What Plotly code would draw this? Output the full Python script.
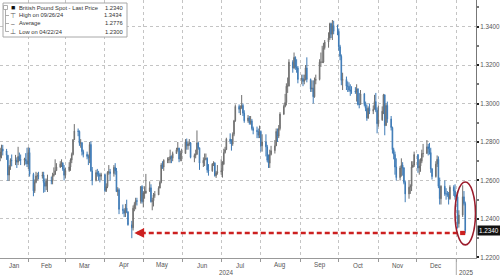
import plotly.graph_objects as go
import pandas as pd

# ---------------- data (GBPUSD daily) ----------------
first_open = 1.2728
close = [
    # Jan 2024 (from Jan 9)
    1.2720, 1.2748, 1.2764, 1.2753, 1.2731, 1.2628, 1.2672, 1.2705, 1.2703, 1.2705, 1.2695, 1.2725, 1.2709, 1.2705, 1.2710, 1.2702, 1.2686,
    # Feb
    1.2745, 1.2632, 1.2546, 1.2590, 1.2623, 1.2625, 1.2622, 1.2628, 1.2589, 1.2570, 1.2599, 1.2600, 1.2597, 1.2626, 1.2631, 1.2651, 1.2670, 1.2685, 1.2690, 1.2660, 1.2627,
    # Mar
    1.2652, 1.2670, 1.2706, 1.2735, 1.2812, 1.2857, 1.2855, 1.2793, 1.2796, 1.2750, 1.2736, 1.2725, 1.2718, 1.2787, 1.2650, 1.2600, 1.2641, 1.2633, 1.2630, 1.2622, 1.2630,
    # Apr
    1.2547, 1.2568, 1.2642, 1.2645, 1.2636, 1.2668, 1.2650, 1.2542, 1.2552, 1.2450, 1.2445, 1.2430, 1.2456, 1.2437, 1.2370, 1.2354, 1.2456, 1.2475, 1.2495, 1.2492, 1.2568, 1.2490,
    # May
    1.2535, 1.2535, 1.2545, 1.2562, 1.2490, 1.2495, 1.2525, 1.2525, 1.2560, 1.2590, 1.2680, 1.2670, 1.2705, 1.2705, 1.2710, 1.2725, 1.2715, 1.2740, 1.2760, 1.2768, 1.2712, 1.2740, 1.2740,
    # Jun
    1.2800, 1.2780, 1.2790, 1.2795, 1.2720, 1.2730, 1.2735, 1.2795, 1.2770, 1.2690, 1.2705, 1.2710, 1.2715, 1.2655, 1.2650, 1.2685, 1.2690, 1.2625, 1.2640, 1.2645,
    # Jul
    1.2650, 1.2685, 1.2745, 1.2760, 1.2815, 1.2805, 1.2790, 1.2840, 1.2910, 1.2985, 1.2970, 1.2975, 1.2990, 1.2950, 1.2910, 1.2925, 1.2900, 1.2910, 1.2870, 1.2860, 1.2855, 1.2835, 1.2855,
    # Aug
    1.2780, 1.2800, 1.2775, 1.2705, 1.2690, 1.2735, 1.2755, 1.2780, 1.2855, 1.2830, 1.2870, 1.2945, 1.2985, 1.3005, 1.3090, 1.3090, 1.3215, 1.3185, 1.3240, 1.3190, 1.3185, 1.3125,
    # Sep
    1.3130, 1.3115, 1.3125, 1.3185, 1.3125, 1.3075, 1.3080, 1.3035, 1.3120, 1.3125, 1.3215, 1.3215, 1.3215, 1.3290, 1.3320, 1.3340, 1.3415, 1.3360, 1.3405, 1.3375, 1.3375,
    # Oct
    1.3295, 1.3245, 1.3120, 1.3125, 1.3090, 1.3090, 1.3070, 1.3065, 1.3065, 1.3060, 1.3075, 1.2995, 1.2995, 1.3050, 1.2995, 1.2975, 1.2925, 1.2975, 1.2960, 1.2970, 1.3010, 1.2965, 1.2895,
    # Nov
    1.2915, 1.2960, 1.3045, 1.2885, 1.2990, 1.2920, 1.2875, 1.2760, 1.2735, 1.2670, 1.2615, 1.2665, 1.2680, 1.2665, 1.2590, 1.2530, 1.2565, 1.2570, 1.2670, 1.2680, 1.2735,
    # Dec
    1.2665, 1.2675, 1.2700, 1.2740, 1.2740, 1.2775, 1.2765, 1.2745, 1.2660, 1.2620, 1.2685, 1.2710, 1.2570, 1.2505, 1.2570, 1.2530, 1.2530, 1.2530, 1.2505, 1.2565, 1.2545, 1.2515,
    # Jan 2025
    1.2515, 1.2375, 1.2420, 1.2515, 1.2480, 1.2340,
]
high = [
    1.2740, 1.2770, 1.2786, 1.2785, 1.2764, 1.2733, 1.2680, 1.2715, 1.2735, 1.2733, 1.2720, 1.2775, 1.2745, 1.2735, 1.2718, 1.2742, 1.2770,
    1.2773, 1.2770, 1.2640, 1.2605, 1.2645, 1.2640, 1.2645, 1.2645, 1.2645, 1.2610, 1.2610, 1.2630, 1.2620, 1.2640, 1.2668, 1.2710, 1.2690, 1.2700, 1.2710, 1.2695, 1.2680,
    1.2667, 1.2695, 1.2715, 1.2745, 1.2815, 1.2893, 1.2870, 1.2860, 1.2815, 1.2800, 1.2760, 1.2750, 1.2735, 1.2800, 1.2803, 1.2670, 1.2655, 1.2660, 1.2650, 1.2640, 1.2640,
    1.2636, 1.2585, 1.2648, 1.2680, 1.2660, 1.2680, 1.2690, 1.2665, 1.2565, 1.2560, 1.2475, 1.2455, 1.2478, 1.2500, 1.2440, 1.2390, 1.2470, 1.2487, 1.2510, 1.2510, 1.2570, 1.2575,
    1.2545, 1.2570, 1.2634, 1.2595, 1.2580, 1.2510, 1.2535, 1.2545, 1.2570, 1.2600, 1.2690, 1.2700, 1.2710, 1.2720, 1.2722, 1.2760, 1.2730, 1.2750, 1.2770, 1.2800, 1.2770, 1.2755, 1.2765,
    1.2815, 1.2818, 1.2800, 1.2815, 1.2800, 1.2740, 1.2760, 1.2860, 1.2800, 1.2770, 1.2720, 1.2740, 1.2740, 1.2720, 1.2685, 1.2690, 1.2700, 1.2695, 1.2650, 1.2680,
    1.2710, 1.2700, 1.2765, 1.2775, 1.2822, 1.2845, 1.2815, 1.2850, 1.2915, 1.2995, 1.2995, 1.2990, 1.3044, 1.3000, 1.2965, 1.2940, 1.2935, 1.2935, 1.2920, 1.2880, 1.2880, 1.2870, 1.2885,
    1.2860, 1.2840, 1.2840, 1.2785, 1.2735, 1.2760, 1.2780, 1.2810, 1.2870, 1.2870, 1.2888, 1.2955, 1.2995, 1.3050, 1.3105, 1.3135, 1.3230, 1.3225, 1.3265, 1.3245, 1.3230, 1.3195,
    1.3150, 1.3150, 1.3150, 1.3200, 1.3240, 1.3130, 1.3120, 1.3120, 1.3135, 1.3150, 1.3230, 1.3265, 1.3300, 1.3315, 1.3330, 1.3370, 1.3420, 1.3420, 1.3434, 1.3430, 1.3410,
    1.3390, 1.3305, 1.3255, 1.3160, 1.3140, 1.3115, 1.3110, 1.3100, 1.3090, 1.3085, 1.3100, 1.3080, 1.3055, 1.3070, 1.3055, 1.3010, 1.2995, 1.2985, 1.3000, 1.2990, 1.3045, 1.3055, 1.2980,
    1.2990, 1.2985, 1.3050, 1.3047, 1.3000, 1.3010, 1.2935, 1.2880, 1.2770, 1.2750, 1.2715, 1.2675, 1.2715, 1.2695, 1.2670, 1.2600, 1.2600, 1.2580, 1.2700, 1.2700, 1.2750,
    1.2735, 1.2710, 1.2715, 1.2760, 1.2790, 1.2810, 1.2790, 1.2795, 1.2770, 1.2665, 1.2700, 1.2730, 1.2725, 1.2615, 1.2575, 1.2600, 1.2560, 1.2545, 1.2540, 1.2575, 1.2575, 1.2580,
    1.2525, 1.2545, 1.2445, 1.2575, 1.2545, 1.2490,
]
low = [
    1.2680, 1.2700, 1.2715, 1.2730, 1.2707, 1.2598, 1.2597, 1.2655, 1.2674, 1.2680, 1.2665, 1.2680, 1.2700, 1.2680, 1.2678, 1.2683, 1.2670,
    1.2660, 1.2620, 1.2518, 1.2535, 1.2585, 1.2600, 1.2605, 1.2610, 1.2536, 1.2540, 1.2550, 1.2540, 1.2580, 1.2580, 1.2620, 1.2640, 1.2650, 1.2665, 1.2670, 1.2650, 1.2600,
    1.2610, 1.2645, 1.2650, 1.2690, 1.2730, 1.2810, 1.2830, 1.2780, 1.2770, 1.2730, 1.2720, 1.2710, 1.2680, 1.2690, 1.2645, 1.2575, 1.2595, 1.2620, 1.2600, 1.2590, 1.2600,
    1.2540, 1.2540, 1.2560, 1.2630, 1.2600, 1.2620, 1.2630, 1.2540, 1.2520, 1.2425, 1.2425, 1.2410, 1.2410, 1.2430, 1.2365, 1.2300, 1.2340, 1.2440, 1.2450, 1.2470, 1.2480, 1.2480,
    1.2460, 1.2505, 1.2530, 1.2540, 1.2485, 1.2445, 1.2465, 1.2510, 1.2530, 1.2560, 1.2585, 1.2660, 1.2650, 1.2690, 1.2690, 1.2690, 1.2690, 1.2700, 1.2740, 1.2750, 1.2695, 1.2700, 1.2700,
    1.2740, 1.2760, 1.2760, 1.2780, 1.2715, 1.2695, 1.2715, 1.2735, 1.2760, 1.2655, 1.2670, 1.2675, 1.2705, 1.2640, 1.2625, 1.2645, 1.2675, 1.2620, 1.2613, 1.2630,
    1.2630, 1.2615, 1.2680, 1.2740, 1.2760, 1.2790, 1.2755, 1.2780, 1.2830, 1.2905, 1.2950, 1.2940, 1.2975, 1.2935, 1.2900, 1.2900, 1.2890, 1.2890, 1.2860, 1.2840, 1.2820, 1.2820, 1.2820,
    1.2750, 1.2750, 1.2725, 1.2695, 1.2665, 1.2665, 1.2730, 1.2740, 1.2780, 1.2800, 1.2820, 1.2860, 1.2940, 1.2980, 1.2990, 1.3055, 1.3090, 1.3160, 1.3180, 1.3175, 1.3160, 1.3105,
    1.3100, 1.3090, 1.3100, 1.3120, 1.3110, 1.3060, 1.3060, 1.3000, 1.3030, 1.3100, 1.3120, 1.3190, 1.3210, 1.3210, 1.3280, 1.3290, 1.3330, 1.3340, 1.3330, 1.3360, 1.3355,
    1.3275, 1.3225, 1.3095, 1.3070, 1.3070, 1.3060, 1.3060, 1.3040, 1.3050, 1.3050, 1.3010, 1.2990, 1.2975, 1.3000, 1.2985, 1.2960, 1.2910, 1.2920, 1.2945, 1.2945, 1.2970, 1.2955, 1.2845,
    1.2880, 1.2910, 1.2945, 1.2835, 1.2885, 1.2900, 1.2860, 1.2740, 1.2710, 1.2630, 1.2600, 1.2600, 1.2620, 1.2625, 1.2580, 1.2487, 1.2505, 1.2530, 1.2545, 1.2665, 1.2670,
    1.2640, 1.2630, 1.2645, 1.2690, 1.2720, 1.2740, 1.2730, 1.2735, 1.2640, 1.2605, 1.2615, 1.2670, 1.2560, 1.2475, 1.2475, 1.2520, 1.2500, 1.2515, 1.2475, 1.2500, 1.2520, 1.2500,
    1.2505, 1.2350, 1.2355, 1.2410, 1.2470, 1.2325,
]

y_ticks = [1.22, 1.24, 1.26, 1.28, 1.30, 1.32, 1.34]
month_labels = ["Jan", "Feb", "Mar", "Apr", "May", "Jun", "Jul", "Aug", "Sep", "Oct", "Nov", "Dec"]
month_label_dates = ["2024-01-21", "2024-02-15", "2024-03-16", "2024-04-16", "2024-05-16", "2024-06-16",
                     "2024-07-16", "2024-08-16", "2024-09-16", "2024-10-16", "2024-11-16", "2024-12-16"]
year_labels = ["2024", "2025"]
year_label_dates = ["2024-07-05", "2025-01-09"]

legend_names = ["British Pound Spot - Last Price", "High on 09/26/24", "Average", "Low on 04/22/24"]
legend_values = ["1.2340", "1.3434", "1.2776", "1.2300"]
legend_icons = ["■", "⊤", "–", "⊥"]
last_price_text = "1.2340"
last_price = 1.2340
marked_low_level = 1.2327

# ---------------- build ----------------
dates = pd.bdate_range("2024-01-09", periods=len(close))
opens = [first_open] + close[:-1]
high = [max(h, o, c) for h, o, c in zip(high, opens, close)]
low = [min(l, o, c) for l, o, c in zip(low, opens, close)]

FONT = "Liberation Sans, Arial, sans-serif"
PW, PH = 476.0, 258.0  # plot area size in px

def px(x):
    return x / PW

def py(y):
    return 1 - y / PH

fig = go.Figure()
fig.add_trace(go.Candlestick(
    x=dates, open=opens, high=high, low=low, close=close,
    increasing=dict(line=dict(color="#6f6f6f", width=1), fillcolor="#9a9a9a"),
    decreasing=dict(line=dict(color="#3f7bb6", width=1), fillcolor="#5c95c9"),
    whiskerwidth=0, showlegend=False, hoverinfo="skip",
))

shapes = []
annotations = []

# legend box
shapes.append(dict(type="rect", xref="paper", yref="paper", x0=px(3), x1=px(127), y0=py(37), y1=py(3),
                   line=dict(color="#a8a8a8", width=1), fillcolor="white", layer="above"))
# tree connector
shapes.append(dict(type="rect", xref="paper", yref="paper", x0=px(3.5), x1=px(7.5), y0=py(9.5), y1=py(5.5),
                   line=dict(color="#999", width=0.8), fillcolor="white", layer="above"))
shapes.append(dict(type="line", xref="paper", yref="paper", x0=px(5.5), x1=px(5.5), y0=py(31.5), y1=py(9.5),
                   line=dict(color="#999", width=0.8), layer="above"))
for i in range(1, 4):
    yy = 7.5 + 8 * i
    shapes.append(dict(type="line", xref="paper", yref="paper", x0=px(5.5), x1=px(9), y0=py(yy), y1=py(yy),
                       line=dict(color="#999", width=0.8), layer="above"))

for i, (nm, val, ic) in enumerate(zip(legend_names, legend_values, legend_icons)):
    yy = 7.5 + 8 * i
    annotations.append(dict(xref="paper", yref="paper", x=px(12.5), y=py(yy), text=ic, showarrow=False,
                            xanchor="center", yanchor="middle",
                            font=dict(family=FONT, size=7 if i == 0 else 6.5, color="#111" if i == 0 else "#555")))
    annotations.append(dict(xref="paper", yref="paper", x=px(16.5), y=py(yy), text=nm, showarrow=False,
                            xanchor="left", yanchor="middle", font=dict(family=FONT, size=5.8, color="#333")))
    annotations.append(dict(xref="paper", yref="paper", x=px(125), y=py(yy), text=val, showarrow=False,
                            xanchor="right", yanchor="middle", font=dict(family=FONT, size=5.8, color="#333")))

# month and year labels
for m, d in zip(month_labels, month_label_dates):
    annotations.append(dict(xref="x", yref="paper", x=d, y=0, yshift=-7, text=m, showarrow=False,
                            xanchor="center", yanchor="middle", font=dict(family=FONT, size=6.3, color="#555")))
for yl, d in zip(year_labels, year_label_dates):
    annotations.append(dict(xref="x", yref="paper", x=d, y=0, yshift=-14, text=yl, showarrow=False,
                            xanchor="center", yanchor="middle", font=dict(family=FONT, size=6.3, color="#555")))
shapes.append(dict(type="line", xref="x", yref="paper", x0="2025-01-01", x1="2025-01-01", y0=0, y1=-17 / PH,
                   line=dict(color="#aaa", width=1)))

# red dashed arrow to April low
shapes.append(dict(type="line", xref="x", yref="y", x0="2024-04-29", x1="2025-01-06",
                   y0=marked_low_level, y1=marked_low_level,
                   line=dict(color="#cc2020", width=2.6, dash="5px,3px"), layer="above"))
shapes.append(dict(type="rect", xref="x", yref="y", x0="2025-01-04", x1="2025-01-08",
                   y0=marked_low_level - 0.0011, y1=marked_low_level + 0.0011,
                   line=dict(color="#cc2020", width=0), fillcolor="#cc2020", layer="above"))
annotations.append(dict(xref="x", yref="y", x="2024-04-24", y=marked_low_level, ax=10, ay=0, text="",
                        showarrow=True, arrowhead=2, arrowsize=0.75, arrowwidth=2.6, arrowcolor="#cc2020",
                        standoff=0))
# ellipse
shapes.append(dict(type="circle", xref="x", yref="y", x0="2024-12-31", x1="2025-01-16",
                   y0=1.2265, y1=1.2592, line=dict(color="#9b1c2c", width=1.6), layer="above"))

# last price tag
annotations.append(dict(xref="paper", yref="y", x=1, y=last_price, xanchor="left", xshift=1,
                        text=last_price_text, showarrow=False, bgcolor="#111111", borderpad=1,
                        font=dict(family=FONT, size=6.3, color="white")))

fig.update_layout(
    width=500, height=275,
    margin=dict(l=0, r=24, t=0, b=17),
    paper_bgcolor="white", plot_bgcolor="white",
    shapes=shapes, annotations=annotations,
    showlegend=False,
    xaxis=dict(
        type="date", range=["2024-01-09 20:00", "2025-01-16 10:00"],
        rangeslider=dict(visible=False),
        dtick="M1", tick0="2024-01-01",
        showgrid=True, gridcolor="#c4c4c4", griddash="dot", gridwidth=1,
        showticklabels=False, ticks="outside", ticklen=3, tickcolor="#999",
        showline=True, linecolor="#999", linewidth=1, zeroline=False,
    ),
    yaxis=dict(
        side="right", range=[1.2197, 1.3538],
        tickvals=y_ticks, ticktext=[f"{v:.4f}" for v in y_ticks],
        tickfont=dict(family=FONT, size=6.3, color="#555"),
        ticks="outside", ticklen=2, tickwidth=2, tickcolor="#222",
        minor=dict(dtick=0.01, tick0=1.22, ticks="outside", ticklen=2, tickcolor="#777", showgrid=False),
        showgrid=True, gridcolor="#c4c4c4", griddash="dot", gridwidth=1,
        showline=True, linecolor="#777", linewidth=1, zeroline=False,
    ),
)

fig.write_html("out.html")
